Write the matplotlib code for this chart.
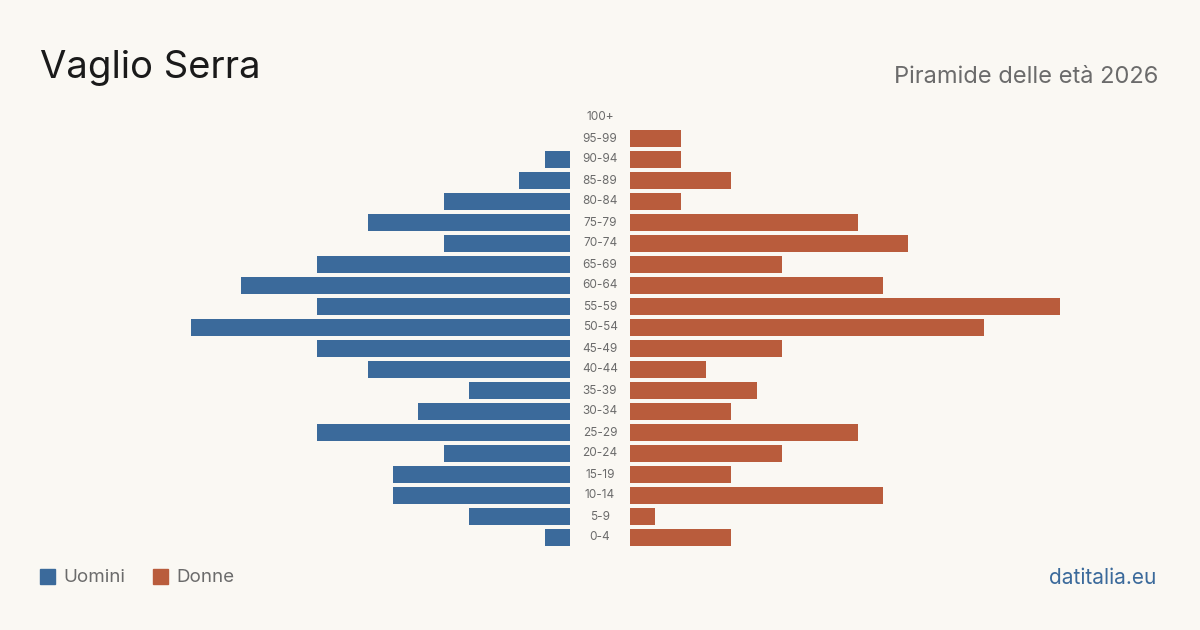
import matplotlib.pyplot as plt
from matplotlib.patches import Rectangle

plt.rcParams["font.family"] = ["Inter", "DejaVu Sans"]

BG = "#faf8f3"
BLUE = "#3b6a9b"
RED = "#b95c3c"

ages = ["0-4", "5-9", "10-14", "15-19", "20-24", "25-29", "30-34", "35-39",
        "40-44", "45-49", "50-54", "55-59", "60-64", "65-69", "70-74",
        "75-79", "80-84", "85-89", "90-94", "95-99", "100+"]
uomini = [1, 4, 7, 7, 5, 10, 6, 4, 8, 10, 15, 10, 13, 10, 5, 8, 5, 2, 1, 0, 0]
donne = [4, 1, 10, 4, 6, 9, 4, 5, 3, 6, 14, 17, 10, 6, 11, 9, 2, 4, 2, 2, 0]

W, H = 1200, 630
fig = plt.figure(figsize=(12, 6.3), dpi=100, facecolor=BG)

vmax = 17
unit = 25.3
top_px, bot_px = 107, 548
b = 1 - bot_px / H
h = (bot_px - top_px) / H

axL = fig.add_axes([(570 - vmax * unit) / W, b, vmax * unit / W, h])
axR = fig.add_axes([630 / W, b, vmax * unit / W, h])
ys = list(range(len(ages)))
axL.barh(ys, uomini, height=0.81, color=BLUE)
axR.barh(ys, donne, height=0.81, color=RED)
axL.set_xlim(vmax, 0)
axR.set_xlim(0, vmax)
for ax in (axL, axR):
    ax.set_ylim(-0.5, len(ages) - 0.5)
    ax.axis("off")
    ax.set_facecolor("none")

for y, a in zip(ys, ages):
    fig.text(600 / W, 1 - (537.5 - y * 21) / H, a, ha="center", va="center",
             fontsize=8.5, color="#6b6b6b")

fig.text(40 / W, 1 - 68 / H, "Vaglio Serra", fontsize=27.5, color="#1a1a1a",
         ha="left", va="center")
fig.text(1158 / W, 1 - 77 / H, "Piramide delle età 2026", fontsize=17,
         color="#6b6b6b", ha="right", va="center")

fig.patches.append(Rectangle((40 / W, 1 - 584 / H), 15 / W, 15 / H,
                             transform=fig.transFigure, color=BLUE))
fig.text(63 / W, 1 - 577.5 / H, "Uomini", fontsize=13.5, color="#6b6b6b",
         ha="left", va="center")
fig.patches.append(Rectangle((153 / W, 1 - 584 / H), 15 / W, 15 / H,
                             transform=fig.transFigure, color=RED))
fig.text(176 / W, 1 - 577.5 / H, "Donne", fontsize=13.5, color="#6b6b6b",
         ha="left", va="center")
fig.text(1156 / W, 1 - 577.5 / H, "datitalia.eu", fontsize=15, color=BLUE,
         ha="right", va="center")

fig.savefig("out.png", dpi=100, facecolor=BG)
